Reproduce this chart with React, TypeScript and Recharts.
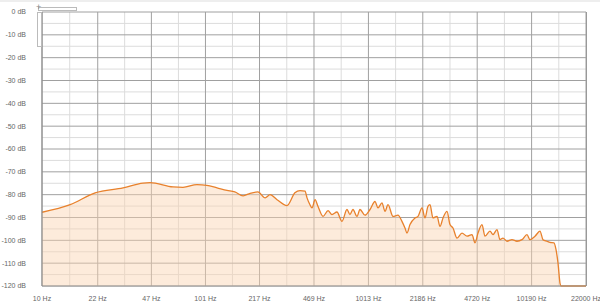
import { AreaChart, Area, XAxis, YAxis, CartesianGrid } from 'recharts'

// frequency (Hz) and level (dB)
const freqs = [
    10, 14.9, 21.2, 31.5, 41.7, 46.1, 63.8, 73.5, 89.6, 103, 119, 137, 153,
    172, 190, 212, 235, 252, 278, 320, 358, 385, 413, 425, 443, 456, 476,
    496, 533, 572, 605, 649, 697, 748, 780, 814, 862, 899, 965, 1036, 1112,
    1160, 1227, 1281, 1336, 1434, 1539, 1628, 1699, 1748, 1824, 1957, 2043,
    2161, 2255, 2352, 2421, 2525, 2673, 2788, 2910, 3079, 3212, 3351, 3546,
    3806, 4086, 4385, 4576, 4774, 5051, 5270, 5656, 5902, 6244, 6517, 6798,
    7194, 7721, 8287, 8895, 9546, 9961, 10690, 11473, 11972, 12665, 13219,
    13985, 14388, 14801, 15226, 15444, 22000,
]
const levels = [
    -87.7, -84.4, -79.2, -77, -74.9, -74.7, -76.6, -76.8, -75.6, -75.9, -77,
    -78.1, -78.8, -80.5, -79.4, -78.8, -81.4, -80, -82.2, -84.8, -79.2, -78.2,
    -78.5, -81.4, -84.4, -85.8, -82.2, -85.1, -89.5, -87, -88.7, -87.6, -91.7,
    -86.5, -88.7, -86.5, -89.5, -86.5, -89, -86.5, -83, -85.8, -83.6, -87.3,
    -84.4, -89.5, -89, -91.7, -94.6, -96.8, -93.1, -90.2, -89.5, -85.8, -90.2,
    -85.1, -84.4, -90.2, -89.5, -93.9, -90.2, -87.3, -93.1, -94.6, -99, -96.8,
    -98.2, -97.5, -101.1, -96.8, -93.1, -98.2, -96, -97.5, -95.3, -99.7, -99,
    -100.4, -99.7, -100.4, -99.7, -97.5, -99.7, -98.2, -96, -99.7, -100.4,
    -100.9, -101.1, -104, -109.9, -118.7, -120, -120,
]

const xTicks = [10, 22, 47, 101, 217, 469, 1013, 2186, 4720, 10190, 22000]
const xMinor = [14.8, 32.2, 68.9, 148, 319, 689, 1488, 3212, 6935, 14973]
const yTicks = [-120, -110, -100, -90, -80, -70, -60, -50, -40, -30, -20, -10, 0]
const yMinor = [-115, -105, -95, -85, -75, -65, -55, -45, -35, -25, -15, -5]

const data = freqs.map((f, i) => ({ freq: f, db: levels[i] }))

const font = 'Liberation Sans, Arial, sans-serif'

function YTick({ x, y, payload }: any) {
    return (
        <text x={x - 14} y={y} dy="0.35em" textAnchor="end" fontSize={7} fill="#666" fontFamily={font}>
            {`${payload.value} dB`}
        </text>
    )
}

function XTick({ x, y, payload }: any) {
    return (
        <text x={x} y={y + 8} dy="0.71em" textAnchor="middle" fontSize={7} fill="#666" fontFamily={font}>
            {`${payload.value} Hz`}
        </text>
    )
}

export default function App() {
    return (
        <div style={{ position: 'absolute', left: 0, top: 0, width: 600, height: 307, background: '#fff' }}>
            <div style={{ position: 'absolute', left: 0, top: 0, width: 600, height: 2, background: '#eee' }} />
            <AreaChart
                width={600}
                height={307}
                data={data}
                margin={{ top: 12, right: 14, bottom: 0, left: 0 }}
            >
                <CartesianGrid
                    stroke="#dcdcdc"
                    horizontalValues={yMinor}
                    verticalValues={xMinor}
                />
                <CartesianGrid stroke="#a0a0a0" />
                <XAxis
                    dataKey="freq"
                    type="number"
                    scale="log"
                    domain={[10, 22000]}
                    ticks={xTicks}
                    tick={<XTick />}
                    tickLine={false}
                    tickSize={0}
                    height={21}
                    axisLine={{ stroke: '#999' }}
                    allowDataOverflow
                    interval={0}
                />
                <YAxis
                    type="number"
                    domain={[-120, 0]}
                    ticks={yTicks}
                    tick={<YTick />}
                    tickLine={false}
                    tickSize={0}
                    width={42}
                    axisLine={{ stroke: '#888' }}
                    interval={0}
                />
                <Area
                    type="monotone"
                    dataKey="db"
                    baseValue={-120}
                    stroke="#e8812c"
                    strokeWidth={1.3}
                    fill="#fbd3b0"
                    fillOpacity={0.45}
                    dot={false}
                    activeDot={false}
                    isAnimationActive={false}
                />
            </AreaChart>
            <div style={{ position: 'absolute', left: 586, top: 12, width: 1, height: 274, background: '#999' }} />
            <div style={{ position: 'absolute', left: 38, top: 7, width: 39, height: 4, border: '1px solid #bbb', boxSizing: 'border-box' }} />
            <div style={{ position: 'absolute', left: 37, top: 12, width: 5, height: 35, border: '1px solid #bbb', boxSizing: 'border-box' }} />
            <div style={{ position: 'absolute', left: 36, top: 3, fontSize: 9, lineHeight: '9px', color: '#888', fontFamily: font }}>+</div>
        </div>
    )
}
